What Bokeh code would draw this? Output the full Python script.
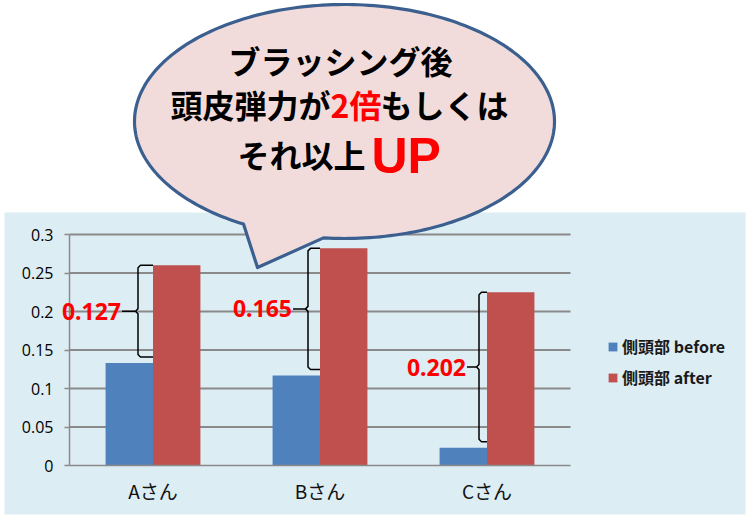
import numpy as np
from bokeh.plotting import figure
from bokeh.models import Range1d, FixedTicker, Legend, LegendItem, Label
from bokeh.core.properties import value
from bokeh.embed import file_html
from bokeh.resources import INLINE

# ---------------- data ----------------
categories = ["Aさん", "Bさん", "Cさん"]
before = [0.133, 0.117, 0.023]
after = [0.260, 0.282, 0.225]
diff_labels = ["0.127", "0.165", "0.202"]
series_names = ["側頭部 before", "側頭部 after"]
y_ticks = [0, 0.05, 0.1, 0.15, 0.2, 0.25, 0.3]
y_tick_labels = ["0", "0.05", "0.1", "0.15", "0.2", "0.25", "0.3"]
headline_1 = "ブラッシング後"
headline_2 = ["頭皮弾力が", "2倍", "もしくは"]
headline_3 = ["それ以上", "UP"]

# ---------------- layout ----------------
W, H = 746, 515
PX_X = 167.0   # pixels per category
PX_Y = 770.0   # pixels per unit of value
OX, OY = 69, 465   # canvas position of the data origin

BLUE_BG = "#dcedf4"
GRID = "#8a8a8a"
C_BEFORE = "#4f81bd"
C_AFTER = "#c0504d"
BUBBLE_FILL = "#f2dcdb"
BUBBLE_LINE = "#3b6090"
RED = "#ff0000"
CJK = "Noto Sans CJK JP"


def dx(px):
    return (px - OX) / PX_X


def dy(py):
    return (OY - py) / PX_Y


p = figure(width=W, height=H, output_backend="svg", toolbar_location=None,
           x_range=Range1d(dx(0), dx(W)), y_range=Range1d(dy(H), dy(0)),
           min_border_left=0, min_border_bottom=0, min_border_top=0,
           min_border_right=0, background_fill_color="white",
           border_fill_color="white", outline_line_color=None)
p.title.visible = False
p.xgrid.visible = False
p.ygrid.visible = False

# light blue panel behind the chart
p.quad(left=[dx(4)], right=[dx(745)], bottom=[dy(514)], top=[dy(212)],
       fill_color=BLUE_BG, line_color=None)

n = len(categories)
centers = [i + 0.5 for i in range(n)]

# gridlines from tick list
grid_vals = [t for t in y_ticks if t > 0]
p.segment(x0=[0] * len(grid_vals), x1=[n] * len(grid_vals), y0=grid_vals, y1=grid_vals,
          line_color=GRID, line_width=1.8)

# bars
bw = 0.284
r_before = p.vbar(x=[c - bw / 2 for c in centers], top=before, width=bw,
                  fill_color=C_BEFORE, line_color=None)
r_after = p.vbar(x=[c + bw / 2 for c in centers], top=after, width=bw,
                 fill_color=C_AFTER, line_color=None)

# axes (drawn at the data origin, inside the frame)
ya = p.yaxis[0]
ya.fixed_location = 0
ya.ticker = FixedTicker(ticks=y_ticks)
ya.major_label_overrides = {t: s for t, s in zip(y_ticks, y_tick_labels)}
ya.bounds = (0, max(y_ticks))
ya.axis_line_color = GRID
ya.axis_line_width = 1.5
ya.major_tick_line_color = GRID
ya.major_tick_line_width = 1.5
ya.major_tick_out = 5
ya.major_tick_in = 0
ya.minor_tick_line_color = None
ya.major_label_standoff = 11
ya.major_label_text_font = "Open Sans"
ya.major_label_text_font_size = "16px"
ya.major_label_text_color = "#000000"

xa = p.xaxis[0]
xa.fixed_location = 0
xa.ticker = FixedTicker(ticks=centers)
xa.major_label_overrides = {c: s for c, s in zip(centers, categories)}
xa.bounds = (0, n)
xa.axis_line_color = GRID
xa.axis_line_width = 1.5
xa.major_tick_line_color = None
xa.major_tick_out = 0
xa.major_tick_in = 0
xa.minor_tick_line_color = None
xa.major_label_standoff = 11
xa.major_label_text_font = CJK
xa.major_label_text_font_size = "19px"
xa.major_label_text_color = "#111111"

# braces + difference labels
INSET_V = [15, 12, 8]
INSET_T = [31, 27, 20]
bx, by = [], []
for i in range(n):
    xr = OX + centers[i] * PX_X
    xv = xr - INSET_V[i]
    xt = xr - INSET_T[i]
    yt = OY - after[i] * PX_Y
    yb = OY - before[i] * PX_Y - 6
    ym = (yt + yb) / 2
    r = 2.5
    up = [(xr, yt), (xv + r, yt), (xv, yt + r), (xv, ym - r), (xv - r, ym), (xt, ym)]
    lo = [(xv - r, ym), (xv, ym + r), (xv, yb - r), (xv + r, yb), (xr, yb)]
    for seg in (up, lo):
        bx.append([dx(a) for a, _ in seg])
        by.append([dy(b) for _, b in seg])
    p.add_layout(Label(x=dx(xt - 1), y=dy(ym), text=diff_labels[i], text_align="right",
                       text_baseline="middle", text_font="Noto Sans",
                       text_font_style="bold", text_font_size="23px", text_color=RED))
p.multi_line(xs=bx, ys=by, line_color="black", line_width=1.5)

# speech bubble
cx, cy, rx, ry = 344, 121, 210, 117
t1 = np.arccos((243 - cx) / rx)
t2 = np.arccos((323 - cx) / rx) + 2 * np.pi
ts = np.linspace(t1, t2, 240)
bub_x = list(cx + rx * np.cos(ts)) + [257]
bub_y = list(cy + ry * np.sin(ts)) + [267]
p.patch(x=[dx(v) for v in bub_x], y=[dy(v) for v in bub_y], fill_color=BUBBLE_FILL,
        line_color=BUBBLE_LINE, line_width=3.2, line_join="round")

# bubble text
p.text(x=[dx(340)], y=[dy(59)], text=[headline_1], text_align="center",
       text_baseline="middle", text_font=value(CJK), text_font_style="bold",
       text_font_size="32px", text_color="black")

fs = 32
w2 = [5 * fs, 0.56 * fs + fs, 4 * fs]
x2 = 339 - sum(w2) / 2
cols2 = ["black", RED, "black"]
for s, w, c in zip(headline_2, w2, cols2):
    p.text(x=[dx(x2)], y=[dy(103)], text=[s], text_align="left", text_baseline="middle",
           text_font=value(CJK), text_font_style="bold", text_font_size="32px",
           text_color=c)
    x2 += w

p.text(x=[dx(237)], y=[dy(153)], text=[headline_3[0]], text_align="left",
       text_baseline="middle", text_font=value(CJK), text_font_style="bold",
       text_font_size="32px", text_color="black")
p.text(x=[dx(371)], y=[dy(155)], text=[headline_3[1]], text_align="left",
       text_baseline="middle", text_font=value("Liberation Sans"), text_font_style="bold",
       text_font_size="50px", text_color=RED)

# legend
legend = Legend(items=[LegendItem(label=series_names[0], renderers=[r_before]),
                       LegendItem(label=series_names[1], renderers=[r_after])],
                location=(607, H - 389), orientation="vertical",
                padding=0, margin=0, spacing=7, glyph_width=11, glyph_height=11,
                label_standoff=4, label_text_font=CJK, label_text_font_size="16px",
                label_text_font_style="bold", label_text_color="#1a1a1a",
                background_fill_alpha=0, border_line_color=None)
p.add_layout(legend)

open("out.html", "w").write(file_html(p, INLINE))
